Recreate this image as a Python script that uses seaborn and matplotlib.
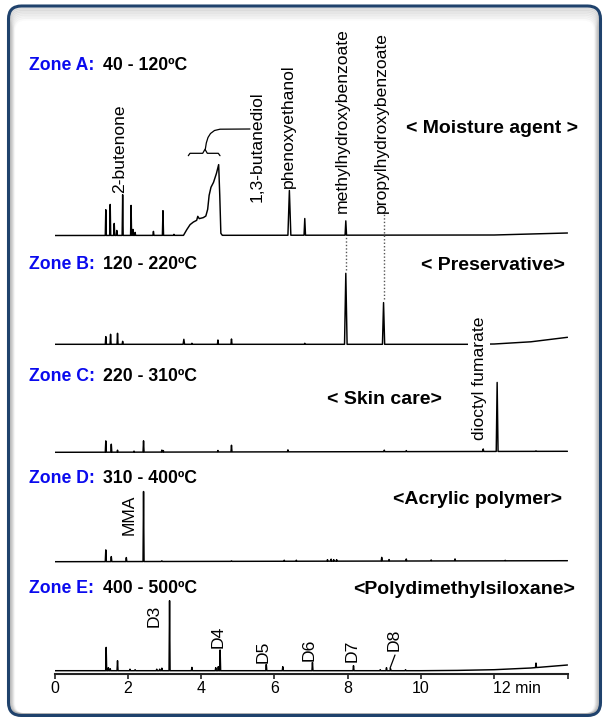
import numpy as np
import pandas as pd
import matplotlib
matplotlib.use("Agg")
import matplotlib.pyplot as plt
import seaborn as sns
from matplotlib.patches import FancyBboxPatch
from matplotlib.transforms import IdentityTransform, ScaledTranslation

# ---------------- data ----------------
time_ticks = [0, 2, 4, 6, 8, 10, 12, 14]
tick_labels = ["0", "2", "4", "6", "8", "10", "12 min", ""]

zone_names = ["Zone A:", "Zone B:", "Zone C:", "Zone D:", "Zone E:"]
zone_temps = ["40 - 120ºC", "120 - 220ºC", "220 - 310ºC", "310 - 400ºC", "400 - 500ºC"]
zone_classes = ["< Moisture agent >", "< Preservative>", "< Skin care>",
                "<Acrylic polymer>", "<Polydimethylsiloxane>"]

# Zone A peaks: retention time (min), height, half width (min)
A_rt = [1.40, 1.52, 1.63, 1.70, 1.86, 2.09, 2.14, 2.20, 2.70, 2.96, 3.26, 6.41, 6.83, 7.95]
A_h = [25.7, 31.0, 12.0, 5.0, 40.7, 30.0, 6.0, 3.0, 4.0, 24.7, 1.0, 44.7, 16.7, 14.3]
A_w = [0.014, 0.014, 0.014, 0.014, 0.014, 0.014, 0.014, 0.014, 0.014, 0.016, 0.014, 0.04, 0.02, 0.02]
# broad 1,3-butanediol hump in zone A
A_hump_t = [3.52, 3.61, 3.70, 3.79, 3.88, 3.91, 3.95, 4.06, 4.13, 4.18, 4.22, 4.27, 4.34, 4.42, 4.48, 4.51, 4.54, 4.58]
A_hump_h = [0.0, 5.7, 10.7, 13.3, 15.0, 19.0, 16.7, 17.7, 19.3, 26.0, 40.0, 48.0, 53.0, 62.0, 70.7, 40.0, 2.0, 0.0]
A_drift_t = [0, 12, 14]
A_drift_h = [0, 0.5, 2.5]

B_rt = [1.40, 1.53, 1.72, 1.86, 3.53, 3.75, 4.46, 4.83, 6.83, 7.95, 8.98]
B_h = [7.7, 10.0, 11.0, 3.0, 5.0, 1.0, 4.3, 5.3, 1.0, 71.0, 41.7]
B_w = [0.014, 0.014, 0.014, 0.014, 0.02, 0.014, 0.014, 0.014, 0.014, 0.035, 0.03]
B_drift_t = [0, 11.3, 12.0, 13.0, 14.0]
B_drift_h = [0, 0, 0.3, 2.5, 7.0]

C_rt = [1.40, 1.55, 1.72, 2.17, 2.43, 2.93, 2.97, 4.46, 4.83, 6.37, 9.00, 9.60, 11.70, 12.08, 13.14]
C_h = [11.3, 8.0, 2.0, 1.0, 11.3, 2.0, 1.5, 1.5, 6.7, 2.0, 1.5, 1.0, 2.5, 69.0, 0.5]
C_w = [0.014] * 13 + [0.025, 0.014]
C_drift_t = [0, 14]
C_drift_h = [0, 1.0]

D_rt = [1.40, 1.55, 1.96, 2.43, 2.93, 4.83, 6.27, 6.60, 7.45, 7.55, 7.62, 7.70,
        8.93, 9.13, 9.60, 10.28, 10.93, 12.30]
D_h = [11.7, 5.0, 4.0, 70.0, 0.7, 0.5, 1.0, 1.0, 1.5, 2.0, 1.5, 1.5,
       3.7, 1.5, 2.0, 1.0, 2.0, 0.5]
D_w = [0.014] * 18
D_drift_t = [0, 14]
D_drift_h = [0, 1.0]

E_rt = [1.41, 1.47, 1.52, 1.72, 2.06, 2.20, 2.79, 2.87, 2.93, 3.14, 3.75, 4.40, 4.47,
        4.52, 5.78, 6.23, 7.04, 8.16, 8.89, 9.06, 9.17, 9.58, 13.14]
E_h = [23.3, 3.0, 2.0, 10.0, 1.5, 1.0, 1.5, 1.5, 2.5, 70.0, 3.3, 3.0, 4.0,
       20.7, 6.3, 4.0, 8.3, 5.0, 1.0, 3.0, 2.0, 1.0, 4.5]
E_w = [0.014] * 23
E_drift_t = [0, 10, 11, 12, 13, 14]
E_drift_h = [0, 0, 0.3, 1.0, 2.7, 5.7]

# ---------------- layout ----------------
W, H = 604, 717
AX_L, AX_R, AX_B = 54.5, 567.5, 674.0
TMAX = 14.0


def tx(px):
    return (px - AX_L) / (AX_R - AX_L) * TMAX


def ty(py):
    return AX_B - py


zone_base = [ty(235.5), ty(344.3), ty(452.3), ty(561.7), ty(670.7)]


def build_trace(rt, h, w, dt, dh, et=None, eh=None):
    pts = set(dt)
    for t, ww in zip(rt, w):
        pts.update([t - ww, t, t + ww])
    if et is not None:
        pts.update(et)
    grid = np.array(sorted(pts))
    grid = grid[(grid >= 0) & (grid <= TMAX)]
    sig = np.interp(grid, dt, dh)
    for t, hh, ww in zip(rt, h, w):
        sig = sig + np.interp(grid, [t - ww, t, t + ww], [0, hh, 0], left=0, right=0)
    if et is not None:
        sig = sig + np.interp(grid, et, eh, left=0, right=0)
    return grid, sig


traces = [
    build_trace(A_rt, A_h, A_w, A_drift_t, A_drift_h, A_hump_t, A_hump_h),
    build_trace(B_rt, B_h, B_w, B_drift_t, B_drift_h),
    build_trace(C_rt, C_h, C_w, C_drift_t, C_drift_h),
    build_trace(D_rt, D_h, D_w, D_drift_t, D_drift_h),
    build_trace(E_rt, E_h, E_w, E_drift_t, E_drift_h),
]

sns.set_theme(style="white")
plt.rcParams["font.family"] = ["Liberation Sans", "DejaVu Sans"]

fig = plt.figure(figsize=(W / 100, H / 100), dpi=100)
fig.patch.set_facecolor("white")

# rounded frame with soft inner shadow
pix = IdentityTransform()
fx0, fy0, fx1, fy1 = 8.5, 6.0, 600.5, 715.5
for i in range(8):
    sh = FancyBboxPatch((fx0 + 1 + 0.6 * i, H - fy1 + 1), fx1 - fx0 - 2 - 1.2 * i, fy1 - fy0 - 3 - 1.6 * i,
                        boxstyle="round,pad=0,rounding_size=12", transform=pix,
                        facecolor="none", edgecolor=(0.45, 0.45, 0.45, 0.16 - 0.018 * i),
                        linewidth=2.0, zorder=0)
    fig.add_artist(sh)
frame = FancyBboxPatch((fx0, H - fy1), fx1 - fx0, fy1 - fy0,
                       boxstyle="round,pad=0,rounding_size=13", transform=pix,
                       facecolor="none", edgecolor="#1f426c", linewidth=2.2, zorder=0.5)
fig.add_artist(frame)

ax = fig.add_axes([AX_L / W, (H - AX_B) / H, (AX_R - AX_L) / W, AX_B / H])
ax.patch.set_alpha(0)
ax.set_zorder(1)

for base, (t, s) in zip(zone_base, traces):
    df = pd.DataFrame({"time": t, "signal": s + base})
    sns.lineplot(data=df, x="time", y="signal", ax=ax, sort=False, estimator=None,
                 color="black", linewidth=1.05)

ax.set_xlim(0, TMAX)
ax.set_ylim(0, AX_B)
ax.set_xlabel("")
ax.set_ylabel("")
ax.set_yticks([])
for sp in ["left", "right", "top"]:
    ax.spines[sp].set_visible(False)
ax.spines["bottom"].set_linewidth(1.5)
ax.spines["bottom"].set_color("#222222")
ax.set_xticks(time_ticks)
ax.set_xticklabels(tick_labels)
ax.tick_params(axis="x", direction="out", length=3.5, width=1.2, color="#222222",
               pad=1.5, labelsize=11.5, labelcolor="black", bottom=True)
lab12 = ax.get_xticklabels()[6]
lab12.set_ha("left")
lab12.set_transform(lab12.get_transform() + ScaledTranslation(-1 / 100, 0, fig.dpi_scale_trans))

# zone titles and compound classes
title_y = [66.0, 264.7, 376.8, 478.3, 588.7]
class_x = [491.5, 492.5, 384.4, 477.1, 463.7]
class_y = [128.7, 265.5, 399.7, 499.2, 589.7]
for i in range(5):
    fig.text(29 / W, 1 - title_y[i] / H, zone_names[i], color="#0a0aee", fontsize=12.7,
             fontweight="bold", ha="left", va="center")
    fig.text(103 / W, 1 - title_y[i] / H, zone_temps[i], color="black", fontsize=12.7,
             fontweight="bold", ha="left", va="center")
    fig.text(class_x[i] / W, 1 - class_y[i] / H, zone_classes[i], color="black",
             fontsize=14, fontweight="bold", ha="center", va="center")

# peak labels (rotated)
lab_fs = 12.6
peak_labels = [
    ("2-butenone", 120.0, 193.0),
    ("1,3-butanediol", 257.0, 201.7),
    ("phenoxyethanol", 288.5, 187.5),
    ("methylhydroxybenzoate", 342.5, 213.0),
    ("propylhydroxybenzoate", 381.0, 213.0),
    ("MMA", 129.6, 535.0),
    ("D3", 154.0, 626.7),
    ("D4", 218.3, 648.3),
    ("D5", 263.3, 662.7),
    ("D6", 309.3, 661.0),
    ("D7", 351.7, 661.7),
    ("D8", 393.7, 650.7),
]
for txt, px, py in peak_labels:
    ax.text(tx(px), ty(py), txt, rotation=90, ha="center", va="bottom",
            fontsize=lab_fs, color="black", zorder=3)
ax.text(tx(479.5), ty(440.0), "dioctyl fumarate", rotation=90, ha="center", va="bottom",
        fontsize=lab_fs, color="black", zorder=4,
        bbox=dict(facecolor="white", edgecolor="none", pad=2.5))

# brace for the butanediol hump and leader lines
brace_px = [(188.3, 155.7), (190.0, 153.3), (202.7, 153.3), (205.0, 149.3),
            (207.3, 153.3), (218.3, 153.3), (220.0, 155.7)]
ax.plot([tx(p[0]) for p in brace_px], [ty(p[1]) for p in brace_px], color="black", lw=0.9)
lead_px = [(205.3, 149.3), (206.3, 143.0), (208.0, 137.5), (210.5, 133.5), (214.5, 130.5),
           (220.0, 129.2), (250.0, 129.0)]
ax.plot([tx(p[0]) for p in lead_px], [ty(p[1]) for p in lead_px], color="black", lw=0.9)
ax.plot([tx(395.0), tx(390.0)], [ty(655.0), ty(668.3)], color="black", lw=0.9)

# dotted guide lines from zone A to zone B preservative peaks
ax.vlines(A_rt[-1], zone_base[1] + B_h[-2] + 3.5, zone_base[0] - 1.5,
          colors="#555555", linestyles=(0, (1, 1.5)), linewidth=1.0)
ax.vlines(B_rt[-1], zone_base[1] + B_h[-1] + 4.0, ty(213.0),
          colors="#555555", linestyles=(0, (1, 1.5)), linewidth=1.0)

fig.savefig("out.png", dpi=100)
